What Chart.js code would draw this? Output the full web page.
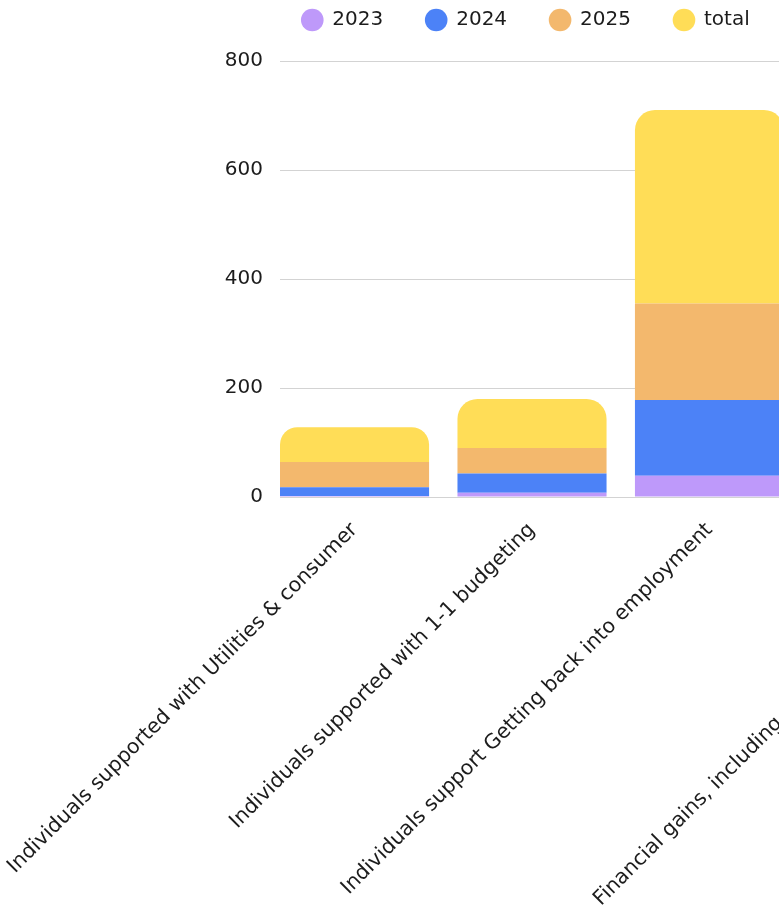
<!DOCTYPE html>
<html lang="en">
<head>
<meta charset="utf-8">
<title>Individuals supported by year</title>
<script src="https://cdn.jsdelivr.net/npm/chart.js@4/dist/chart.umd.min.js"></script>
<style>
    html, body { margin: 0; padding: 0; background: #fff; overflow: hidden; }
    .chart-wrap { position: relative; width: 1052px; height: 915px; }
</style>
</head>
<body>
<div class="chart-wrap">
    <canvas id="supportChart"></canvas>
</div>
<script>
(function () {
    'use strict';

    const categories = [
        'Individuals supported with Utilities & consumer',
        'Individuals supported with 1-1 budgeting',
        'Individuals support Getting back into employment',
        'Financial gains, including debt write-offs and grants'
    ];
    const values2023 = [2, 8, 39, 10];
    const values2024 = [16, 35, 139, 22];
    const values2025 = [46, 47, 177, 30];
    const valuesTotal = [64, 90, 355, 62];
    const yTicks = [0, 200, 400, 600, 800];

    const colors = {
        y2023: '#BE99FA',
        y2024: '#4C82F7',
        y2025: '#F3B86D',
        total: '#FFDD57',
        grid: '#d3d3d3',
        text: '#1c1c1c'
    };

    const baseFont = { family: "'DejaVu Sans', sans-serif", size: 20 };

    // bars sit on a linear x axis so the first one starts right at the plot edge
    const toPoints = (values) => values.map((v, i) => ({ x: i, y: v }));

    // extra room between the legend and the plot
    const legendMargin = {
        id: 'legendMargin',
        beforeInit(chart) {
            const fitLegend = chart.legend.fit;
            chart.legend.fit = function fit() {
                fitLegend.bind(chart.legend)();
                this.height += 21;
            };
        }
    };

    function initializeChart() {
        const canvas = document.getElementById('supportChart');
        if (!canvas) {
            return;
        }

        new Chart(canvas, {
            type: 'bar',
            data: {
                datasets: [
                    { label: '2023', data: toPoints(values2023), backgroundColor: colors.y2023 },
                    { label: '2024', data: toPoints(values2024), backgroundColor: colors.y2024 },
                    { label: '2025', data: toPoints(values2025), backgroundColor: colors.y2025 },
                    {
                        label: 'total',
                        data: toPoints(valuesTotal),
                        backgroundColor: colors.total,
                        borderRadius: { topLeft: 20, topRight: 20 },
                        borderSkipped: false
                    }
                ]
            },
            options: {
                responsive: true,
                maintainAspectRatio: false,
                animation: false,
                layout: { padding: { top: -33 } },
                datasets: {
                    bar: { categoryPercentage: 1, barPercentage: 0.84 }
                },
                plugins: {
                    legend: {
                        position: 'top',
                        labels: {
                            usePointStyle: true,
                            pointStyle: 'circle',
                            boxWidth: 20,
                            boxHeight: 16,
                            padding: 43,
                            color: colors.text,
                            font: baseFont
                        }
                    },
                    tooltip: { enabled: false }
                },
                scales: {
                    x: {
                        type: 'linear',
                        stacked: true,
                        offset: false,
                        min: -0.42,
                        max: 3.93,
                        grid: { display: false },
                        border: { display: false },
                        afterBuildTicks(scale) {
                            // the long last label is pushed a bit further right
                            const last = categories.length - 1;
                            scale.ticks = categories.map((_, i) => ({ value: i === last ? i + 0.485 : i }));
                        },
                        afterFit(scale) {
                            scale.height = 418;
                            scale.paddingLeft = 0;
                            scale.paddingRight = 0;
                        },
                        ticks: {
                            autoSkip: false,
                            minRotation: 45,
                            maxRotation: 45,
                            padding: 13,
                            color: colors.text,
                            font: { ...baseFont, size: 20.5 },
                            callback: (value, index) => categories[index] ?? ''
                        }
                    },
                    y: {
                        stacked: true,
                        min: yTicks[0],
                        max: yTicks[yTicks.length - 1],
                        afterBuildTicks(scale) {
                            scale.ticks = yTicks.map((v) => ({ value: v }));
                        },
                        afterFit(scale) {
                            scale.width = 280;
                        },
                        grid: { color: colors.grid, drawTicks: false },
                        border: { display: false },
                        ticks: {
                            padding: 17,
                            color: colors.text,
                            font: baseFont
                        }
                    }
                }
            },
            plugins: [legendMargin]
        });
    }

    document.addEventListener('DOMContentLoaded', initializeChart);
})();
</script>
</body>
</html>
